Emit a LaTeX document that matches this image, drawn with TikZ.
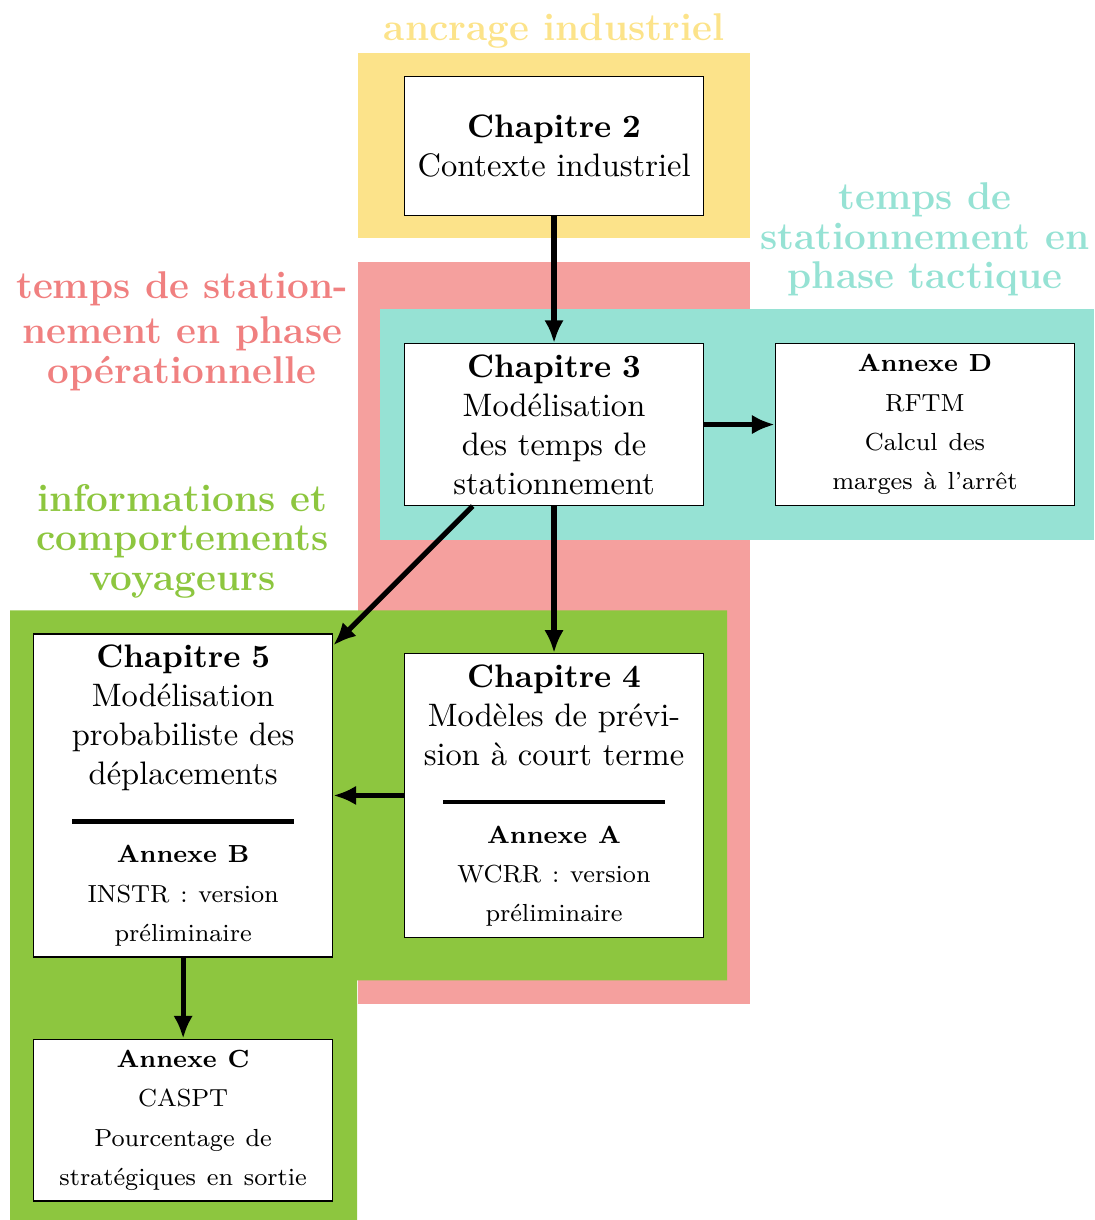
\documentclass[tikz,border=0pt]{standalone}
\usetikzlibrary{arrows.meta}
\definecolor{jaune}{RGB}{252,227,138}
\definecolor{rose}{RGB}{245,160,158}
\definecolor{rosetexte}{RGB}{240,128,128}
\definecolor{turquoise}{RGB}{150,226,212}
\definecolor{vert}{RGB}{141,198,63}
\newcommand{\annexefont}{\fontsize{7.6}{12.1}\selectfont}
\begin{document}
\begin{tikzpicture}[
    chap/.style={draw,fill=white,text width=3cm,align=center},
    fleche/.style={line width=1.6pt,-{Latex[length=7pt,width=6pt]}},
    titre/.style={align=center,font=\bfseries\fontsize{11.9}{12.2}\selectfont}
  ]
        \useasboundingbox (0,0) rectangle (11.83,-13.19);
        %% zones
        \fill[rose] (3.87,-2.83) rectangle (8.11,-10.85);
        \fill[jaune] (3.87,-0.57) rectangle (8.11,-2.57);
        \fill[turquoise] (4.11,-3.34) rectangle (11.83,-5.84);
        \fill[vert] (0.11,-6.60) -- (7.86,-6.60) -- (7.86,-10.60) -- (3.86,-10.60) -- (3.86,-13.19) -- (0.11,-13.19) -- cycle;
        %% titres des zones
        \node[titre,text=jaune,anchor=base] (tjaune) at (5.99,-0.44) {ancrage industriel};
        \node[titre,text=turquoise] (tturq) at (10.00,-2.59) {temps de\\stationnement en\\phase tactique};
        \node[titre,text=rosetexte] (trose) at (1.97,-3.58) {temps de station-\\[1.8pt]nement en phase\\op\'erationnelle};
        \node[titre,text=vert] (tvert) at (1.97,-5.85) {informations et\\comportements\\voyageurs};
        %% chapitres
        \node[chap,minimum height=1.5cm] (ch2) at (5.99,-1.58) {\textbf{Chapitre 2}\\Contexte industriel};
        \node[chap] (ch3) at (5.99,-4.59) {\textbf{Chapitre 3}\\Mod\'elisation\\des temps de\\stationnement};
        \node[chap] (annD) at (10.00,-4.59) {{\annexefont\textbf{Annexe D}\\RFTM\\Calcul des\\marges \`a l'arr\^et}};
        \node[chap] (ch4) at (5.99,-8.60) {\textbf{Chapitre 4}\\Mod\`eles de pr\'evi-\\sion \`a court terme\\\rule{2.4cm}{1.3pt}\\{\annexefont\textbf{Annexe A}\\WCRR : version\\pr\'eliminaire}};
        \node[chap] (ch5) at (1.98,-8.60) {\textbf{Chapitre 5}\\Mod\'elisation\\probabiliste des\\d\'eplacements\\\rule{2.4cm}{1.3pt}\\{\annexefont\textbf{Annexe B}\\INSTR : version\\pr\'eliminaire}};
        \node[chap] (annC) at (1.98,-12.11) {{\annexefont\textbf{Annexe C}\\CASPT\\Pourcentage de\\strat\'egiques en sortie}};
        %% liens
        \draw[fleche] (ch2) -- (ch3);
        \draw[fleche] (ch3) -- (annD);
        \draw[fleche] (ch3) -- (ch4);
        \draw[fleche] (ch3) -- (ch5);
        \draw[fleche] (ch4) -- (ch5);
        \draw[fleche] (ch5) -- (annC);
\end{tikzpicture}
\end{document}
